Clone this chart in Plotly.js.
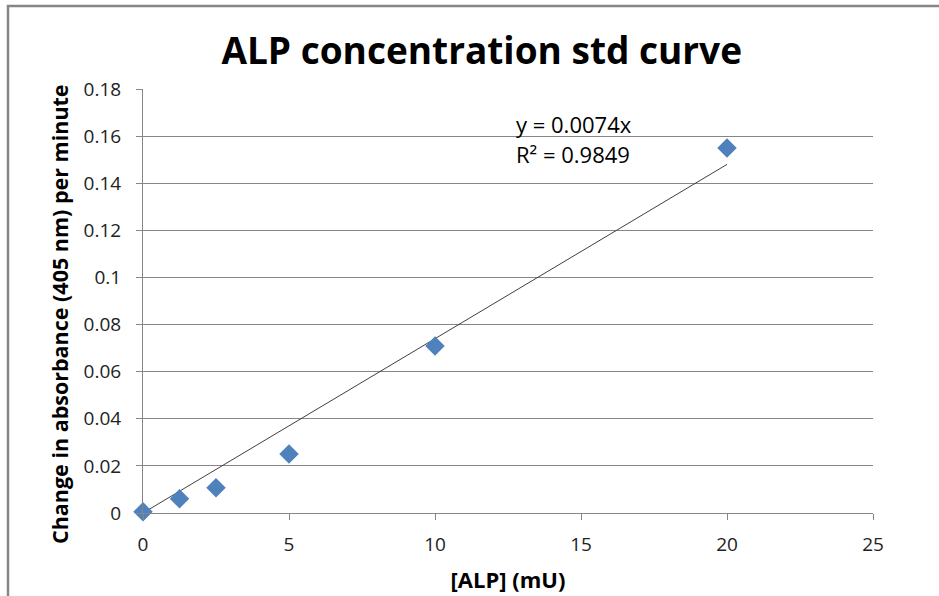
<!DOCTYPE html>
<html>
<head>
<meta charset="utf-8">
<script src="https://cdn.plot.ly/plotly-3.0.1.min.js"></script>
<style>
html,body{margin:0;padding:0;background:#fff;}
#chart{width:939px;height:596px;}
</style>
</head>
<body>
<div id="chart"></div>
<script>
const alpConc = [0, 1.25, 2.5, 5, 10, 20];
const absChange = [0.0005, 0.006, 0.0107, 0.025, 0.0709, 0.155];
const slope = 0.0074;
const rSquared = 0.9849;
const trendX = [0, 20];
const trendY = trendX.map(x => slope * x);
const xTicks = [0, 5, 10, 15, 20, 25];
const yTicks = [0, 0.02, 0.04, 0.06, 0.08, 0.1, 0.12, 0.14, 0.16, 0.18];
const yTickText = ['0', '0.02', '0.04', '0.06', '0.08', '0.1', '0.12', '0.14', '0.16', '0.18'];
const yTitle = 'Change in absorbance (405 nm) per minute';

const font = '"Open Sans", "Liberation Sans", sans-serif';

const data = [
  {x: trendX, y: trendY, mode: 'lines', type: 'scatter',
   line: {color: '#404040', width: 1}, hoverinfo: 'skip', cliponaxis: false},
  {x: alpConc, y: absChange, mode: 'markers', type: 'scatter',
   marker: {symbol: 'diamond', size: 15, color: '#4F81BD'}, cliponaxis: false}
];

const layout = {
  width: 939, height: 596,
  margin: {l: 143, r: 66, t: 89, b: 83},
  paper_bgcolor: '#fff', plot_bgcolor: '#fff',
  showlegend: false,
  title: {text: '<b>ALP concentration std curve</b>', x: 0.513, xanchor: 'center', y: 0.915, yanchor: 'middle',
          font: {family: font, size: 37, color: '#000'}},
  xaxis: {
    range: [0, 25], tickvals: xTicks, ticktext: xTicks.map(String),
    showgrid: false, zeroline: false, showline: true, linecolor: '#868686', linewidth: 1,
    ticks: 'outside', ticklen: 6, tickcolor: '#868686', ticklabelstandoff: 8,
    tickfont: {family: font, size: 19, color: '#222'},
    title: {text: '<b>[ALP] (mU)</b>', font: {family: font, size: 22, color: '#000'}, standoff: 16}
  },
  yaxis: {
    range: [0, 0.18], tickvals: yTicks, ticktext: yTickText,
    showgrid: true, gridcolor: '#868686', gridwidth: 1, zeroline: false,
    showline: true, linecolor: '#868686', linewidth: 1,
    ticks: 'outside', ticklen: 6, tickcolor: '#868686', ticklabelstandoff: 11,
    tickfont: {family: font, size: 19, color: '#222'}
  },
  annotations: [
    {x: 12.7, y: 0.1653, xref: 'x', yref: 'y', xanchor: 'left', yanchor: 'middle', showarrow: false,
     text: 'y = ' + slope + 'x', font: {family: font, size: 22, color: '#000'}},
    {x: 12.7, y: 0.1523, xref: 'x', yref: 'y', xanchor: 'left', yanchor: 'middle', showarrow: false,
     text: 'R² = ' + rSquared, font: {family: font, size: 22, color: '#000'}},
    {x: (59 - 143) / 730, y: (513 - 314) / 424, xref: 'paper', yref: 'paper', xanchor: 'center', yanchor: 'middle',
     showarrow: false, textangle: -90, text: '<b>' + yTitle + '</b>', font: {family: font, size: 21.5, color: '#000'}}
  ],
  shapes: [
    {type: 'rect', xref: 'paper', yref: 'paper', x0: (8 - 143) / 730, x1: (960 - 143) / 730,
     y0: -0.3, y1: (513 - 6) / 424, line: {color: '#868686', width: 2.5}, fillcolor: 'rgba(0,0,0,0)', layer: 'below'}
  ]
};

Plotly.newPlot('chart', data, layout, {displayModeBar: false, staticPlot: true});
</script>
</body>
</html>
